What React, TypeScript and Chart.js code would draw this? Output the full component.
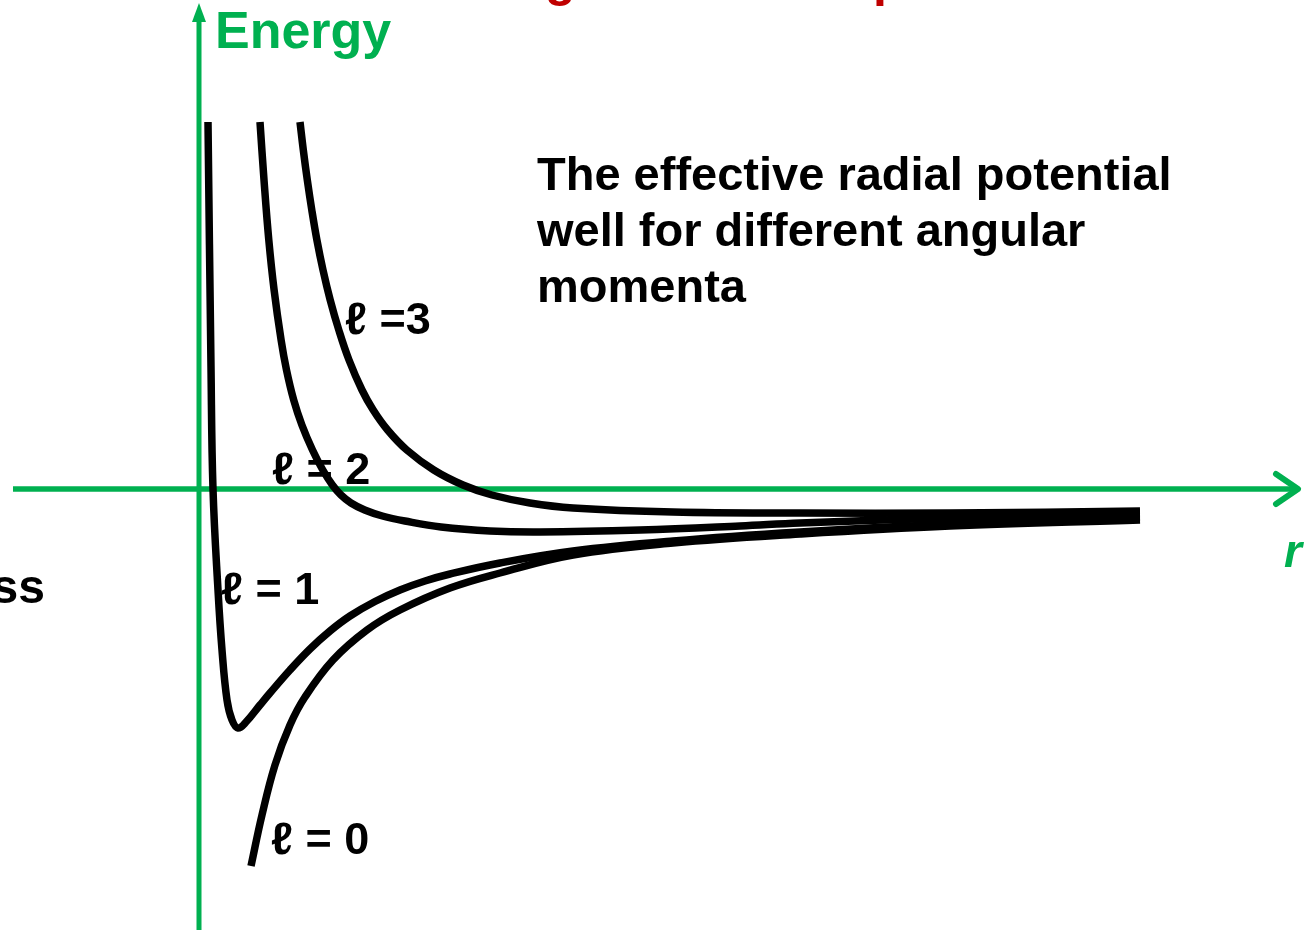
import { useEffect, useRef } from 'react';
import { Chart, registerables } from 'chart.js';

Chart.register(...registerables);

// ---- data (r in arbitrary units, energy in arbitrary units; origin at axes crossing) ----
const seriesNames = ['ℓ = 0', 'ℓ = 1', 'ℓ = 2', 'ℓ =3'];

const rL0 = [0.52, 0.63, 0.76, 0.91, 1.06, 1.34, 1.68, 2.01, 2.51, 3.01, 3.74, 4.74, 6.01, 7.51, 9.41];
const eL0 = [-3.77, -3.26, -2.76, -2.36, -2.08, -1.71, -1.41, -1.21, -0.99, -0.84, -0.66, -0.54, -0.45, -0.37, -0.31];

const rL1 = [0.09, 0.12, 0.14, 0.19, 0.23, 0.28, 0.33, 0.39, 0.47, 0.61, 0.71, 0.91, 1.11, 1.31, 1.51, 1.76, 2.01, 2.26, 2.51, 3.01, 3.74, 4.74, 6.01, 7.51, 9.41];
const eL1 = [3.67, 1.22, 0, -1.01, -1.61, -2.11, -2.31, -2.39, -2.33, -2.16, -2.04, -1.81, -1.6, -1.42, -1.27, -1.125, -1.01, -0.92, -0.85, -0.74, -0.62, -0.52, -0.43, -0.35, -0.28];

const rL2 = [0.61, 0.65, 0.698, 0.751, 0.821, 0.875, 0.947, 1.029, 1.135, 1.238, 1.334, 1.42, 1.52, 1.657, 1.834, 2.06, 2.42, 2.91, 3.41, 4.41, 5.41, 6.01, 7.51, 9.41];
const eL2 = [3.67, 3.09, 2.49, 1.99, 1.49, 1.19, 0.89, 0.64, 0.39, 0.19, 0.04, -0.06, -0.14, -0.21, -0.27, -0.32, -0.38, -0.42, -0.43, -0.41, -0.37, -0.34, -0.29, -0.25];

const rL3 = [1.01, 1.043, 1.083, 1.128, 1.179, 1.24, 1.312, 1.398, 1.5, 1.63, 1.742, 1.886, 2.078, 2.348, 2.64, 2.93, 3.31, 3.74, 4.74, 6.01, 7.51, 9.41];
const eL3 = [3.67, 3.39, 3.09, 2.79, 2.49, 2.19, 1.89, 1.59, 1.29, 0.99, 0.79, 0.59, 0.39, 0.19, 0.04, -0.06, -0.14, -0.19, -0.23, -0.24, -0.24, -0.22];

const xRange = [-1.99, 11.16];
const yRange = [-4.41, 4.89];

const descriptionLines = ['The effective radial potential', 'well for different angular', 'momenta'];
const yAxisTitle = 'Energy';
const xAxisTitle = 'r';

// ---- styles ----
const GREEN = '#00B050';
const RED = '#C00000';
const FONT = '"Liberation Sans", Arial, Helvetica, sans-serif';

const toPoints = (xs: number[], ys: number[]) => xs.map((x, i) => ({ x, y: ys[i] }));

const overlayPlugin = {
  id: 'overlay',
  beforeDatasetsDraw(chart: any) {
    const ctx = chart.ctx;
    const ox = chart.scales.x.getPixelForValue(0);
    const oy = chart.scales.y.getPixelForValue(0);
    ctx.save();
    ctx.strokeStyle = GREEN;
    ctx.fillStyle = GREEN;
    ctx.lineWidth = 5;
    ctx.lineCap = 'butt';
    // vertical axis
    ctx.beginPath();
    ctx.moveTo(ox, chart.height);
    ctx.lineTo(ox, 18);
    ctx.stroke();
    ctx.beginPath();
    ctx.moveTo(ox, 3);
    ctx.lineTo(ox - 7, 22);
    ctx.lineTo(ox + 7, 22);
    ctx.closePath();
    ctx.fill();
    // horizontal axis
    ctx.lineWidth = 5.5;
    ctx.beginPath();
    ctx.moveTo(13, oy);
    ctx.lineTo(1298, oy);
    ctx.stroke();
    ctx.lineCap = 'round';
    ctx.lineJoin = 'round';
    ctx.lineWidth = 6;
    ctx.beginPath();
    ctx.moveTo(1276, oy - 15);
    ctx.lineTo(1298, oy);
    ctx.lineTo(1276, oy + 15);
    ctx.stroke();
    ctx.restore();
  },
  afterDatasetsDraw(chart: any) {
    const ctx = chart.ctx;
    ctx.save();
    ctx.textBaseline = 'alphabetic';
    ctx.textAlign = 'left';
    // cut-off red heading fragments at the very top
    ctx.fillStyle = RED;
    ctx.font = `bold 50px ${FONT}`;
    ctx.fillText('g', 545, -4);
    ctx.fillText('p', 873, -4);
    // axis titles
    ctx.fillStyle = GREEN;
    ctx.font = `bold 52px ${FONT}`;
    ctx.fillText(yAxisTitle, 215, 48);
    ctx.font = `italic bold 46px ${FONT}`;
    ctx.fillText(xAxisTitle, 1284, 567);
    // description
    ctx.fillStyle = '#000';
    ctx.font = `bold 47px ${FONT}`;
    descriptionLines.forEach((t, i) => ctx.fillText(t, 537, 190 + i * 56));
    // cut-off left text
    ctx.font = `bold 48px ${FONT}`;
    ctx.textAlign = 'right';
    ctx.fillText('ss', 45, 603);
    ctx.textAlign = 'left';
    // curve labels
    ctx.font = `bold 45px ${FONT}`;
    const labelPos = [
      [271, 854],
      [221, 604],
      [272, 484],
      [345, 334],
    ];
    seriesNames.forEach((t, i) => ctx.fillText(t, labelPos[i][0], labelPos[i][1]));
    ctx.restore();
  },
};

export default function App() {
  const canvasRef = useRef<HTMLCanvasElement | null>(null);

  useEffect(() => {
    document.body.style.margin = '0';
    const canvas = canvasRef.current;
    if (!canvas) return;
    const mk = (label: string, xs: number[], ys: number[]) => ({
      label,
      data: toPoints(xs, ys),
      borderColor: '#000000',
      backgroundColor: '#000000',
      borderWidth: 7.5,
      pointRadius: 0,
      fill: false,
      tension: 0.4,
      borderCapStyle: 'butt' as const,
      borderJoinStyle: 'round' as const,
    });
    const chart = new Chart(canvas, {
      type: 'line',
      data: {
        datasets: [
          mk(seriesNames[0], rL0, eL0),
          mk(seriesNames[1], rL1, eL1),
          mk(seriesNames[2], rL2, eL2),
          mk(seriesNames[3], rL3, eL3),
        ],
      },
      options: {
        responsive: false,
        animation: false,
        layout: { padding: 0 },
        scales: {
          x: { type: 'linear', display: false, min: xRange[0], max: xRange[1] },
          y: { type: 'linear', display: false, min: yRange[0], max: yRange[1] },
        },
        plugins: {
          legend: { display: false },
          tooltip: { enabled: false },
          title: { display: false },
        },
      },
      plugins: [overlayPlugin],
    });
    return () => chart.destroy();
  }, []);

  return (
    <div style={{ position: 'absolute', left: 0, top: 0, width: 1315, height: 930, background: '#fff' }}>
      <canvas ref={canvasRef} width={1315} height={930} style={{ display: 'block' }} />
    </div>
  );
}
